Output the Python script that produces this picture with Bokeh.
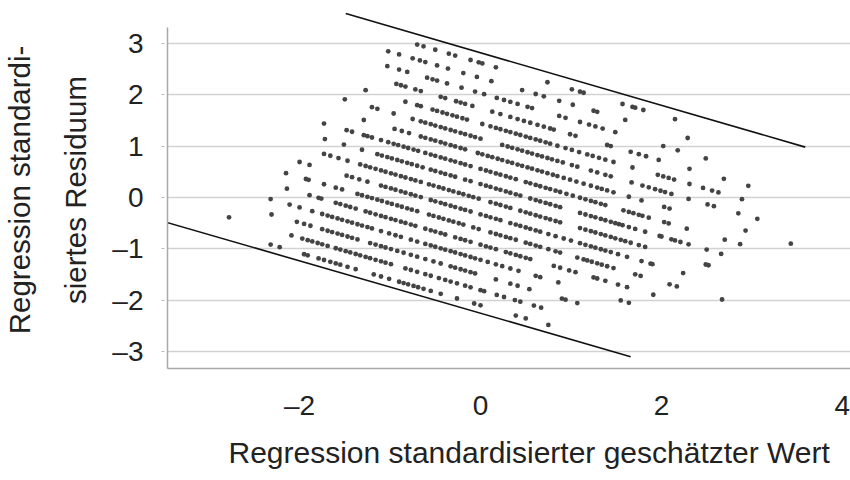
from bokeh.plotting import figure
from bokeh.models import FixedTicker, Title, Range1d, ColumnDataSource
from bokeh.embed import file_html
from bokeh.resources import INLINE

# Standardised residual levels of the 17 diagonal bands (value at predicted = 0)
resid_levels = [-2.10, -1.805, -1.51, -1.215, -0.92, -0.625, -0.33, -0.035, 0.26,
                0.555, 0.85, 1.145, 1.44, 1.735, 2.03, 2.325, 2.62]
# common slope of the bands (residual change per unit of predicted value)
resid_slope = -0.51

# standardised predicted values of the dots, one list per band (lowest band first)
pred_b0 = [-2.32, -2.22, -1.95, -1.91, -1.79, -1.73, -1.66, -1.60, -1.55, -1.47, -1.38, -1.18,
           -1.10, -1.01, -0.90, -0.85, -0.80, -0.74, -0.69, -0.63, -0.55, -0.44, -0.26, -0.07,
           0.00, 0.39, 0.50, 0.75]
pred_b1 = [-2.78, -2.09, -1.97, -1.91, -1.86, -1.80, -1.75, -1.69, -1.60, -1.55, -1.49, -1.44,
           -1.38, -1.33, -1.27, -1.22, -1.16, -1.10, -1.05, -0.99, -0.83, -0.77, -0.70, -0.61,
           -0.55, -0.46, -0.39, -0.33, -0.26, -0.17, -0.11, 0.00, 0.04, 0.18, 0.26, 0.38, 0.44,
           0.59, 0.67]
pred_b2 = [-2.31, -2.03, -1.95, -1.88, -1.75, -1.69, -1.64, -1.58, -1.53, -1.47, -1.42, -1.36,
           -1.22, -1.16, -1.10, -1.05, -0.99, -0.92, -0.85, -0.77, -0.70, -0.61, -0.52, -0.44,
           -0.33, -0.28, -0.22, -0.17, -0.11, -0.06, 0.17, 0.33, 0.41, 0.54, 0.90, 0.94, 1.07]
pred_b3 = [-2.32, -2.11, -2.00, -1.86, -1.75, -1.69, -1.64, -1.58, -1.53, -1.47, -1.42, -1.36,
           -1.31, -1.25, -1.20, -1.10, -1.01, -0.94, -0.88, -0.77, -0.70, -0.61, -0.55, -0.50,
           -0.44, -0.39, -0.33, -0.28, -0.22, -0.17, -0.11, -0.06, 0.00, 0.08, 0.17, 0.24, 0.33,
           0.42, 0.61, 0.66, 0.86, 1.55, 1.64]
pred_b4 = [-2.14, -1.89, -1.79, -1.76, -1.60, -1.55, -1.49, -1.44, -1.38, -1.27, -1.22, -1.16,
           -1.10, -1.05, -0.99, -0.94, -0.88, -0.83, -0.77, -0.72, -0.61, -0.55, -0.50, -0.44,
           -0.39, -0.28, -0.22, -0.17, -0.11, 0.00, 0.06, 0.11, 0.17, 0.28, 0.33, 0.39, 0.44,
           0.50, 0.55, 0.81, 0.88, 0.98, 1.05, 1.25, 1.29, 1.38, 1.52, 1.62, 1.91]
pred_b5 = [-2.15, -1.93, -1.90, -1.73, -1.60, -1.53, -1.36, -1.31, -1.25, -1.20, -1.14, -1.09,
           -1.03, -0.98, -0.92, -0.87, -0.81, -0.76, -0.70, -0.57, -0.52, -0.46, -0.41, -0.35,
           -0.30, -0.24, -0.19, -0.08, -0.02, 0.11, 0.17, 0.22, 0.28, 0.33, 0.39, 0.50, 0.55,
           0.61, 0.66, 0.75, 0.83, 0.88, 1.07, 1.14, 1.18, 1.23, 1.29, 1.34, 1.40, 1.47, 1.71,
           1.77, 2.09, 2.17, 2.67]
pred_b6 = [-2.00, -1.89, -1.48, -1.42, -1.34, -1.25, -1.10, -1.05, -0.99, -0.94, -0.88, -0.83,
           -0.77, -0.72, -0.66, -0.55, -0.50, -0.44, -0.39, -0.33, -0.28, -0.22, -0.17, -0.11,
           0.00, 0.06, 0.11, 0.17, 0.22, 0.33, 0.39, 0.44, 0.50, 0.55, 0.61, 0.66, 0.75, 0.83,
           0.92, 1.00, 1.10, 1.16, 1.22, 1.27, 1.33, 1.38, 1.44, 1.52, 1.62, 1.78, 1.88, 1.90,
           2.24]
pred_b7 = [-1.73, -1.66, -1.57, -1.47, -1.33, -1.27, -1.22, -1.16, -1.10, -1.05, -0.99, -0.94,
           -0.88, -0.83, -0.77, -0.72, -0.66, -0.57, -0.52, -0.46, -0.41, -0.35, -0.30, -0.24,
           -0.19, -0.13, -0.08, -0.02, 0.11, 0.17, 0.22, 0.28, 0.33, 0.44, 0.50, 0.55, 0.61,
           0.66, 0.72, 0.77, 0.83, 0.88, 1.10, 1.16, 1.22, 1.27, 1.33, 1.38, 1.44, 1.49, 1.55,
           1.60, 1.66, 1.75, 1.82, 2.49, 2.52]
pred_b8 = [-1.72, -1.51, -1.31, -1.14, -1.09, -1.03, -0.98, -0.92, -0.87, -0.81, -0.76, -0.70,
           -0.64, -0.55, -0.50, -0.44, -0.39, -0.33, -0.28, -0.17, -0.11, 0.00, 0.06, 0.11, 0.17,
           0.22, 0.28, 0.33, 0.39, 0.44, 0.55, 0.61, 0.66, 0.72, 0.77, 0.83, 0.88, 1.10, 1.16,
           1.22, 1.27, 1.33, 1.38, 1.44, 1.49, 1.53, 1.57, 1.64, 1.71, 1.82, 1.98, 2.00, 2.11,
           2.15, 2.21, 2.30, 2.50, 2.66]
pred_b9 = [-1.73, -1.48, -1.42, -1.29, -1.25, -1.20, -1.10, -1.02, -0.96, -0.91, -0.85, -0.80,
           -0.74, -0.69, -0.61, -0.55, -0.50, -0.44, -0.39, -0.33, -0.28, -0.22, -0.17, -0.11,
           0.00, 0.06, 0.11, 0.17, 0.22, 0.28, 0.33, 0.39, 0.50, 0.55, 0.61, 0.66, 0.72, 0.77,
           0.83, 0.88, 0.95, 1.02, 1.10, 1.16, 1.22, 1.27, 1.33, 1.38, 1.58, 1.64, 1.69, 1.75,
           1.79, 1.86, 2.03, 2.08, 2.28, 2.70, 2.87]
pred_b10 = [-1.29, -0.95, -0.87, -0.79, -0.66, -0.61, -0.55, -0.50, -0.44, -0.39, -0.33, -0.28,
            -0.22, -0.17, -0.03, 0.02, 0.08, 0.13, 0.19, 0.24, 0.30, 0.35, 0.41, 0.46, 0.52,
            0.57, 0.63, 0.68, 0.74, 0.80, 0.85, 0.92, 0.99, 1.06, 1.14, 1.22, 1.29, 1.34, 1.40,
            1.47, 1.64, 1.78, 2.03, 2.09, 2.93, 3.43]
pred_b11 = [-1.50, -1.20, -1.14, -0.96, -0.75, -0.66, -0.61, -0.55, -0.50, -0.44, -0.39, -0.33,
            -0.28, -0.22, -0.17, -0.11, -0.06, 0.00, 0.24, 0.30, 0.35, 0.41, 0.46, 0.52, 0.57,
            0.63, 0.68, 0.74, 0.79, 0.85, 0.91, 1.01, 1.07, 1.22, 1.29, 1.38, 1.44, 1.67, 1.79,
            1.86, 1.93, 1.99, 2.04, 2.11, 2.30, 2.51, 2.58, 2.85, 3.06]
pred_b12 = [-1.27, -0.83, -0.70, -0.66, -0.53, -0.48, -0.42, -0.37, -0.31, -0.26, -0.20, -0.15,
            0.02, 0.11, 0.17, 0.22, 0.28, 0.33, 0.39, 0.44, 0.50, 0.55, 0.61, 0.66, 0.72, 0.77,
            0.85, 0.94, 1.01, 1.09, 1.18, 1.24, 1.31, 1.38, 1.47, 1.68, 1.96, 2.02, 2.08, 2.14,
            2.31, 2.46, 2.56, 2.63, 2.89]
pred_b13 = [-0.93, -0.88, -0.83, -0.72, -0.66, -0.44, -0.39, -0.27, -0.22, -0.17, -0.09, 0.13,
            0.22, 0.33, 0.41, 0.48, 0.55, 0.63, 0.70, 0.77, 0.81, 0.99, 1.05, 1.40, 1.44, 1.66,
            1.75, 1.83, 1.97, 2.31, 2.69, 2.96]
pred_b14 = [-1.03, -0.90, -0.81, -0.59, -0.53, -0.48, -0.37, -0.21, -0.06, 0.04, 0.18, 0.26,
            0.33, 0.41, 0.52, 0.57, 0.87, 0.94, 1.10, 1.20, 1.27, 1.35, 1.49, 2.02, 2.18, 2.49]
pred_b15 = [-1.02, -0.90, -0.75, -0.67, -0.61, -0.48, -0.36, -0.19, -0.04, 0.12, 0.46, 0.61,
            0.70, 0.87, 1.02, 1.25, 1.29, 1.60, 2.29]
pred_b16 = [-0.70, -0.63, -0.50, -0.35, -0.28, -0.11, -0.02, 0.02, 0.17, 0.74, 1.01, 1.10,
            1.14, 1.57, 1.68, 1.71, 1.80, 2.15]

# the two hand-drawn boundary lines
upper_line_x = [-1.49, 3.59]
upper_line_y = [3.58, 0.98]
lower_line_x = [-3.50, 1.66]
lower_line_y = [-0.47, -3.10]

y_ticks = [-3, -2, -1, 0, 1, 2, 3]
y_tick_labels = ["\u20133", "\u20132", "\u20131", "0", "1", "2", "3"]
x_ticks = [-2, 0, 2, 4]
x_tick_labels = ["\u20132", "0", "2", "4"]

bands = [pred_b0, pred_b1, pred_b2, pred_b3, pred_b4, pred_b5, pred_b6, pred_b7, pred_b8,
         pred_b9, pred_b10, pred_b11, pred_b12, pred_b13, pred_b14, pred_b15, pred_b16]
xs, ys = [], []
for level, preds in zip(resid_levels, bands):
    for xv in preds:
        xs.append(xv)
        ys.append(level + resid_slope * xv)
src = ColumnDataSource(dict(x=xs, y=ys))

FONT = "Liberation Sans"
TXT = "#222222"

p = figure(width=850, height=480, x_range=Range1d(-3.46, 4.09), y_range=Range1d(-3.33, 3.62),
           output_backend="svg", toolbar_location=None,
           min_border_left=167, min_border_right=0, min_border_top=11, min_border_bottom=112)
p.outline_line_color = None
p.background_fill_color = "white"
p.xgrid.visible = False
p.ygrid.grid_line_color = "#d2d2d2"
p.ygrid.grid_line_width = 1.5

ya = p.yaxis[0]
ya.ticker = FixedTicker(ticks=y_ticks)
ya.major_label_overrides = dict(zip(y_ticks, y_tick_labels))
ya.bounds = (-3.33, 3.31)
ya.axis_line_color = "#a8a8a8"
ya.axis_line_width = 1.5
ya.major_tick_line_color = "#b8b8b8"
ya.major_tick_in = -3
ya.major_tick_out = 6
ya.minor_tick_in = 0
ya.minor_tick_out = 0
ya.major_label_standoff = 18
ya.major_label_text_font = FONT
ya.major_label_text_font_size = "28px"
ya.major_label_text_color = TXT
ya.axis_label = "Regression standardi-\nsiertes Residuum"
ya.axis_label_text_font = FONT
ya.axis_label_text_font_size = "29.5px"
ya.axis_label_text_font_style = "normal"
ya.axis_label_text_color = TXT
ya.axis_label_text_line_height = 1.7
ya.axis_label_standoff = 17

xa = p.xaxis[0]
xa.ticker = FixedTicker(ticks=x_ticks)
xa.major_label_overrides = dict(zip(x_ticks, x_tick_labels))
xa.axis_line_color = "#a8a8a8"
xa.axis_line_width = 1.5
xa.major_tick_out = 0
xa.major_tick_in = 0
xa.minor_tick_in = 0
xa.minor_tick_out = 0
xa.major_label_standoff = 21
xa.major_label_text_font = FONT
xa.major_label_text_font_size = "28px"
xa.major_label_text_color = TXT

xt = Title(text="Regression standardisierter gesch\u00e4tzter Wert", align="left", offset=61,
           text_font=FONT, text_font_size="30px", text_font_style="normal", text_color=TXT,
           standoff=21)
p.add_layout(xt, "below")

p.scatter("x", "y", source=src, size=4.8, fill_color="#444444", line_color=None)
p.line(upper_line_x, upper_line_y, line_color="#111111", line_width=1.6)
p.line(lower_line_x, lower_line_y, line_color="#111111", line_width=1.6)

open("out.html", "w").write(file_html(p, INLINE))
